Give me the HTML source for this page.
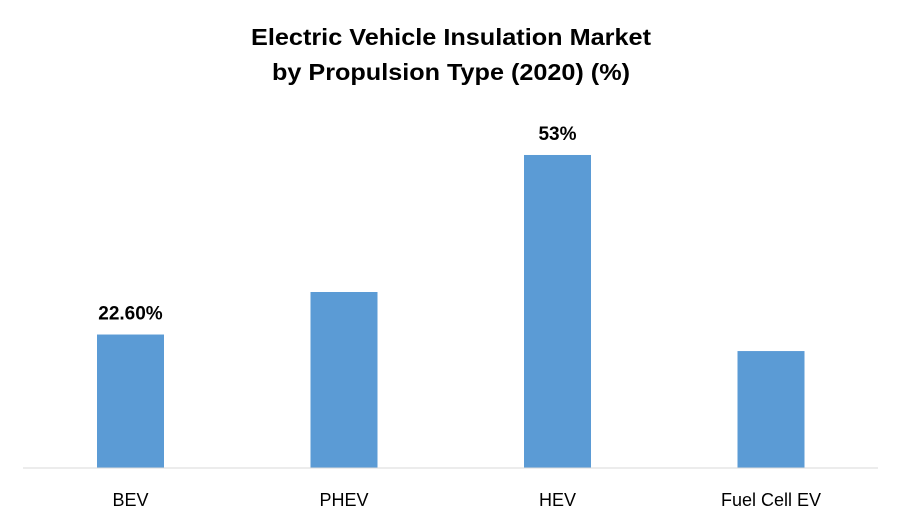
<!DOCTYPE html>
<html><head><meta charset="utf-8"><style>
html,body{margin:0;padding:0;background:#fff;}
svg{display:block;font-family:"Liberation Sans",sans-serif;}
</style></head><body>
<svg width="902" height="527" viewBox="0 0 902 527">
<g>
<text x="451" y="45" text-anchor="middle" font-size="23" font-weight="bold" fill="#000" textLength="400" lengthAdjust="spacingAndGlyphs">Electric Vehicle Insulation Market</text>
<text x="451" y="80" text-anchor="middle" font-size="23" font-weight="bold" fill="#000" textLength="358" lengthAdjust="spacingAndGlyphs">by Propulsion Type (2020) (%)</text>
</g>
<g id="bars"></g>
<line x1="23" y1="468" x2="878" y2="468" stroke="#d9d9d9" stroke-width="1"/>
</svg>
<script>
const categories = ["BEV","PHEV","HEV","Fuel Cell EV"];
const values = [22.6, 29.8, 53, 19.8];
const labels = ["22.60%", "", "53%", ""];
const plotLeft = 23.75, plotRight = 877.75, baseY = 468, pxPerUnit = 5.906;
const bandW = (plotRight - plotLeft) / categories.length;
const barW = 67;
function xCenter(i){ return plotLeft + bandW * (i + 0.5); }
function yScale(v){ return baseY - v * pxPerUnit; }
const g = document.getElementById('bars');
const NS = "http://www.w3.org/2000/svg";
categories.forEach((c, i) => {
  const r = document.createElementNS(NS, 'rect');
  r.setAttribute('x', xCenter(i) - barW/2);
  r.setAttribute('y', yScale(values[i]));
  r.setAttribute('width', barW);
  r.setAttribute('height', baseY - yScale(values[i]));
  r.setAttribute('fill', '#5b9bd5');
  
  
  g.appendChild(r);
  const t = document.createElementNS(NS, 'text');
  t.setAttribute('x', xCenter(i));
  t.setAttribute('y', 506);
  t.setAttribute('text-anchor', 'middle');
  t.setAttribute('font-size', '18');
  t.setAttribute('fill', '#000');
  t.textContent = c;
  
  
  g.appendChild(t);
  if (labels[i]) {
    const l = document.createElementNS(NS, 'text');
    l.setAttribute('x', xCenter(i));
    l.setAttribute('y', yScale(values[i]) - 15);
    l.setAttribute('text-anchor', 'middle');
    l.setAttribute('font-size', '19');
    l.setAttribute('font-weight', 'bold');
    l.setAttribute('fill', '#000');
    l.textContent = labels[i];
    
    
    g.appendChild(l);
  }
});
</script>
</body></html>
